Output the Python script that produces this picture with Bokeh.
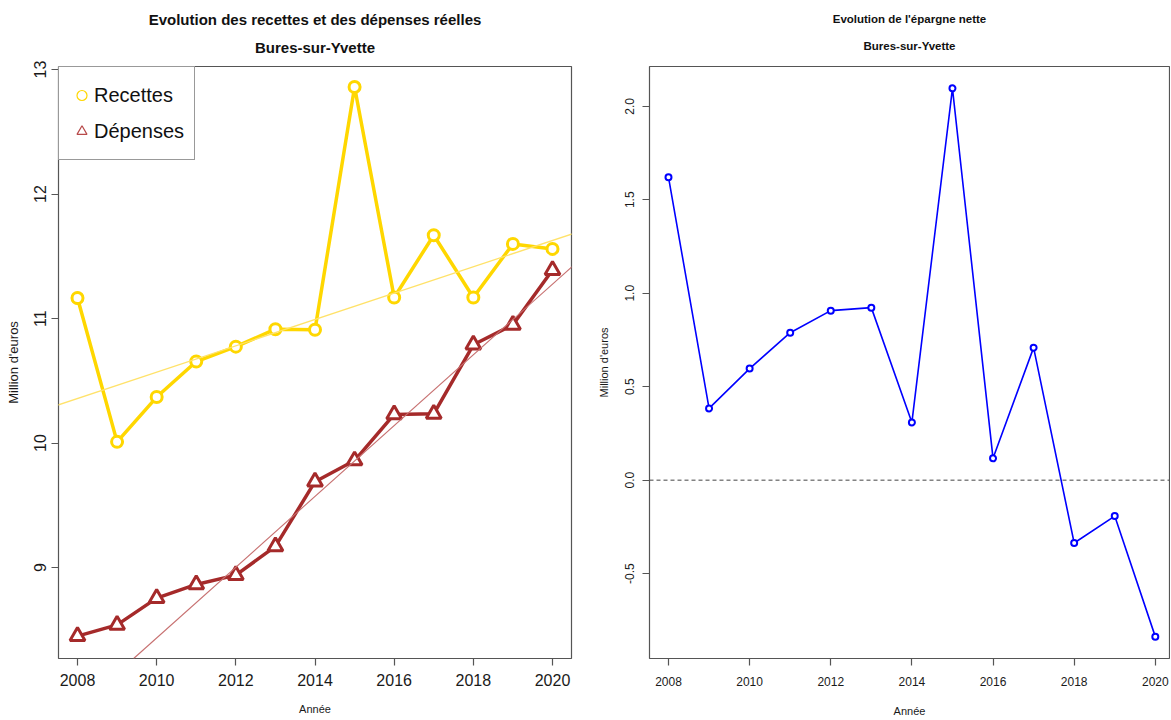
import numpy as np
from bokeh.plotting import figure
from bokeh.models import (Title, Legend, LegendItem, Span, Slope, FixedTicker,
                          PrintfTickFormatter, Range1d)
from bokeh.layouts import row
from bokeh.embed import file_html
from bokeh.resources import INLINE

# ---------------- data ----------------
years = [2008, 2009, 2010, 2011, 2012, 2013, 2014, 2015, 2016, 2017, 2018, 2019, 2020]
recettes = [11.165, 10.01, 10.37, 10.655, 10.775, 10.915, 10.91, 12.86, 11.17, 11.67, 11.17, 11.60, 11.56]
depenses = [8.45, 8.54, 8.755, 8.865, 8.94, 9.17, 9.69, 9.86, 10.23, 10.235, 10.79, 10.95, 11.39]
epargne = [1.621, 0.384, 0.597, 0.789, 0.907, 0.923, 0.309, 2.096, 0.117, 0.709, -0.336, -0.192, -0.837]

# trend lines: (value in 2014, slope per year)
recettes_trend = (10.993, 0.1058)
depenses_trend = (9.572, 0.2842)
zero_line = 0.0

x_ticks = [2008, 2010, 2012, 2014, 2016, 2018, 2020]
left_y_ticks = [9, 10, 11, 12, 13]
right_y_ticks = [-0.5, 0.0, 0.5, 1.0, 1.5, 2.0]

titre_gauche = "Evolution des recettes et des dépenses réelles"
titre_droite = "Evolution de l'épargne nette"
commune = "Bures-sur-Yvette"
legend_labels = ["Recettes", "Dépenses"]

GOLD = "#FFD700"
GOLD_TREND = "#FFE26A"
BROWN = "#A52A2A"
BROWN_TREND = "#C77070"
BLUE = "#0000FF"
FRAME = "#555555"
FONT = "Liberation Sans"

H = 719


def style(p, xtick_size, ytick_size, xlab_size, ylab_size, xlab_standoff, ylab_standoff,
          xtick_standoff, ytick_standoff):
    p.grid.visible = False
    p.outline_line_color = FRAME
    p.outline_line_width = 1.2
    p.background_fill_color = "white"
    p.border_fill_color = "white"
    for ax in p.axis:
        ax.axis_line_color = None
        ax.major_tick_out = 7
        ax.major_tick_in = 0
        ax.minor_tick_line_color = None
        ax.major_tick_line_color = FRAME
        ax.major_tick_line_width = 1.2
        ax.major_label_text_color = "#1a1a1a"
        ax.axis_label_text_color = "#1a1a1a"
        ax.axis_label_text_font_style = "normal"
        ax.major_label_text_font = FONT
        ax.axis_label_text_font = FONT
    p.xaxis.major_label_text_font_size = xtick_size
    p.xaxis.major_label_standoff = xtick_standoff
    p.xaxis.axis_label_text_font_size = xlab_size
    p.xaxis.axis_label_standoff = xlab_standoff
    p.yaxis.major_label_text_font_size = ytick_size
    p.yaxis.major_label_orientation = "vertical"
    p.yaxis.major_label_standoff = ytick_standoff
    p.yaxis.axis_label_text_font_size = ylab_size
    p.yaxis.axis_label_standoff = ylab_standoff


def add_titles(p, main, sub, size, sub_standoff, main_standoff):
    p.add_layout(Title(text=sub, align="center", text_font=FONT, text_font_size=size,
                       text_font_style="bold", text_color="#111111", vertical_align="top",
                       standoff=sub_standoff), "above")
    p.add_layout(Title(text=main, align="center", text_font=FONT, text_font_size=size,
                       text_font_style="bold", text_color="#111111", vertical_align="top",
                       standoff=main_standoff), "above")


# ---------------- left panel ----------------
p1 = figure(width=592, height=H, output_backend="svg", toolbar_location=None,
            x_range=Range1d(2007.52, 2020.48), y_range=Range1d(8.27, 13.025),
            min_border_left=58, min_border_right=21, min_border_top=66, min_border_bottom=60,
            x_axis_label="Année", y_axis_label="Million d'euros")
add_titles(p1, titre_gauche, commune, "15px", 17, 1)

for val2014, slope, col, w in [(recettes_trend[0], recettes_trend[1], GOLD_TREND, 1.3),
                               (depenses_trend[0], depenses_trend[1], BROWN_TREND, 1.1)]:
    p1.add_layout(Slope(gradient=slope, y_intercept=val2014 - slope * 2014,
                        line_color=col, line_width=w))

# thin legend glyphs, hidden under the first real markers
leg_r = p1.scatter(years[:1], recettes[:1], marker="circle", size=12, line_color=GOLD,
                   line_width=1.2, fill_color=None)
leg_d = p1.scatter(years[:1], depenses[:1], marker="triangle", size=12, line_color="#B84A4A",
                   line_width=1.2, fill_color=None)

p1.line(years, recettes, line_color=GOLD, line_width=3.5)
p1.scatter(years, recettes, marker="circle", size=11, line_color=GOLD, line_width=3,
           fill_color="white")
p1.line(years, depenses, line_color=BROWN, line_width=3.5)
p1.scatter(years, depenses, marker="triangle", size=15, line_color=BROWN, line_width=3,
           fill_color="white")

legend = Legend(items=[LegendItem(label=legend_labels[0], renderers=[leg_r]),
                       LegendItem(label=legend_labels[1], renderers=[leg_d])],
                location="top_left", margin=0, padding=10, spacing=0,
                glyph_width=25, glyph_height=36, label_standoff=0, label_height=36,
                label_text_font=FONT, label_text_font_size="20px",
                label_text_color="#111111",
                border_line_color="#333333", border_line_width=1,
                background_fill_color="white", background_fill_alpha=1.0)
p1.add_layout(legend)

p1.xaxis.ticker = FixedTicker(ticks=x_ticks)
p1.yaxis.ticker = FixedTicker(ticks=left_y_ticks)
style(p1, "16px", "16px", "11px", "13px", 14, 11, 8, 5)

# ---------------- right panel ----------------
p2 = figure(width=578, height=H, output_backend="svg", toolbar_location=None,
            x_range=Range1d(2007.532, 2020.35), y_range=Range1d(-0.954, 2.213),
            min_border_left=57, min_border_right=1, min_border_top=66, min_border_bottom=60,
            x_axis_label="Année", y_axis_label="Million d'euros")
add_titles(p2, titre_droite, commune, "11.5px", 25, 1)

p2.add_layout(Span(location=zero_line, dimension="width", line_color="#444444",
                   line_width=1, line_dash="4 3"))
p2.line(years, epargne, line_color=BLUE, line_width=1.6)
p2.scatter(years, epargne, marker="circle", size=6, line_color=BLUE, line_width=2,
           fill_color="white")

p2.xaxis.ticker = FixedTicker(ticks=x_ticks)
p2.yaxis.ticker = FixedTicker(ticks=right_y_ticks)
p2.yaxis.formatter = PrintfTickFormatter(format="%.1f")
style(p2, "12px", "12px", "11px", "11px", 16, 13, 11, 8)

layout = row(p1, p2)
open("out.html", "w").write(file_html(layout, INLINE))
